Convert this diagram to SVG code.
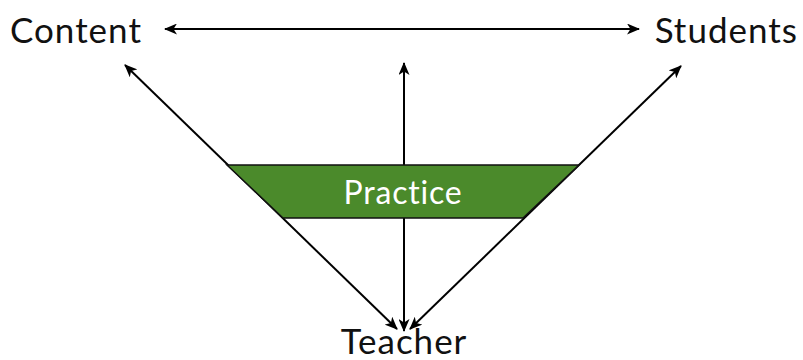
<svg xmlns="http://www.w3.org/2000/svg" width="803" height="360" viewBox="0 0 803 360">
<style>
.lbl{font-family:Lato,"Liberation Sans",sans-serif;font-size:35px;letter-spacing:1px;fill:#111;}
.pr{font-family:Lato,"Liberation Sans",sans-serif;font-size:32px;letter-spacing:0.8px;fill:#fff;}
.ln{stroke:#000;stroke-width:2;fill:none;}
</style>
<defs>
<marker id="ah" viewBox="0 0 13 11" refX="12" refY="5.5" markerWidth="13" markerHeight="11" markerUnits="userSpaceOnUse" orient="auto-start-reverse">
<path d="M0,0 L13,5.5 L0,11 L3.5,5.5 Z" fill="#000"/>
</marker>
</defs>
<g id="connectors">
<line class="ln" x1="165" y1="29" x2="639" y2="29" marker-start="url(#ah)" marker-end="url(#ah)"/>
<line class="ln" x1="125" y1="65" x2="397" y2="329" marker-start="url(#ah)" marker-end="url(#ah)"/>
<line class="ln" x1="404" y1="63" x2="404" y2="331" marker-start="url(#ah)" marker-end="url(#ah)"/>
<line class="ln" x1="681" y1="66" x2="410" y2="329" marker-start="url(#ah)" marker-end="url(#ah)"/>
</g>
<g id="content"><text class="lbl" x="10" y="43">Content</text></g>
<g id="students"><text class="lbl" x="798" y="43" text-anchor="end">Students</text></g>
<g id="practice">
<polygon points="227,165 579,165 523,218 283,218" fill="#4b8a2b" stroke="#111" stroke-width="1.5"/>
<text class="pr" x="403" y="204" text-anchor="middle">Practice</text>
</g>
<g id="teacher"><text class="lbl" x="404" y="354" text-anchor="middle">Teacher</text></g>
</svg>
